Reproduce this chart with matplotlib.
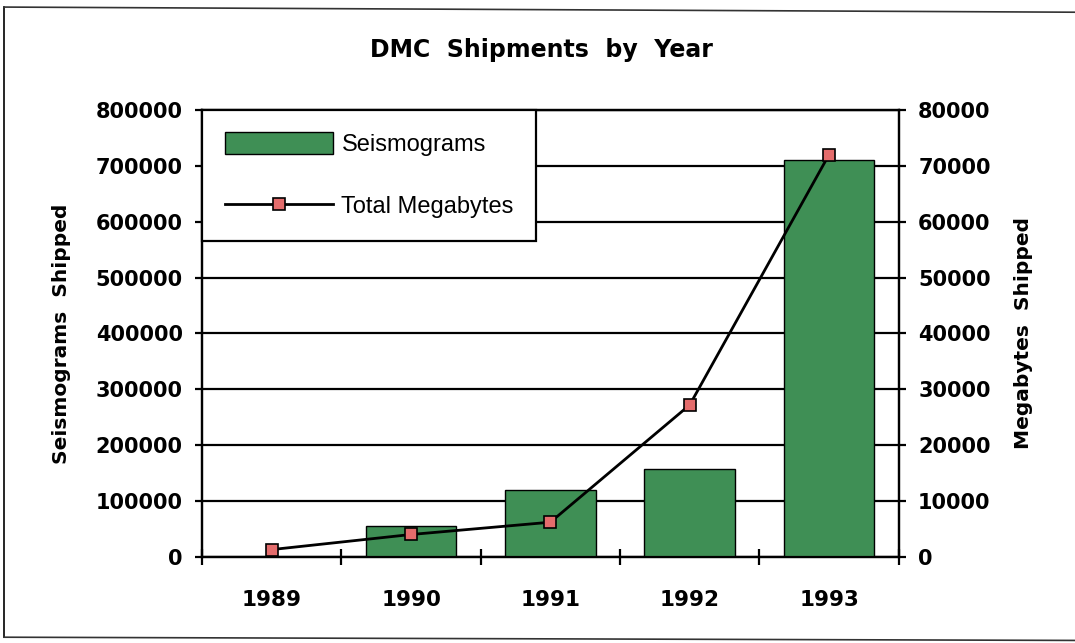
import numpy as np
import matplotlib.pyplot as plt
from matplotlib.lines import Line2D

years = ['1989', '1990', '1991', '1992', '1993']
seismograms = [0, 55000, 120000, 157000, 710000]
megabytes = [1300, 4000, 6200, 27200, 72000]

left_ticks = [0, 100000, 200000, 300000, 400000, 500000, 600000, 700000, 800000]
right_ticks = [0, 10000, 20000, 30000, 40000, 50000, 60000, 70000, 80000]

bar_green = '#3f8f55'
marker_red = '#e46c6c'

plt.rcParams['font.family'] = ['DejaVu Sans']

fig = plt.figure(figsize=(10.75, 6.43), dpi=100)
ax = fig.add_axes([0.188, 0.134, 0.648, 0.695])
ax2 = ax.twinx()

x = np.arange(len(years))

# seismograms as bars on the left axis
bars = ax.bar(x, seismograms, width=0.65, color=bar_green,
              edgecolor='black', linewidth=1, zorder=3)
ax.set_ylim(0, 800000)
ax.set_xlim(-0.5, len(years) - 0.5)
ax.set_yticks(left_ticks)
ax.set_yticklabels([str(v) for v in left_ticks])
ax.yaxis.grid(True, color='black', linewidth=1.6)
ax.set_axisbelow(True)

# megabytes as a line on the right axis
line, = ax2.plot(x, megabytes, color='black', linewidth=2,
                 marker='s', markersize=8.5, markerfacecolor=marker_red,
                 markeredgecolor='black', markeredgewidth=1.2, zorder=4)
ax2.set_ylim(0, 80000)
ax2.set_yticks(right_ticks)
ax2.set_yticklabels([str(v) for v in right_ticks])

# year labels at the centres, tick marks between the years
ax.set_xticks(x)
ax.set_xticklabels(years)
ax.set_xticks(np.arange(len(years) + 1) - 0.5, minor=True)
ax.tick_params(axis='x', which='major', length=0, pad=24,
               labelsize=15.5)
ax.tick_params(axis='x', which='minor', direction='inout', length=11.5,
               width=1.6)
for lab in ax.get_xticklabels():
    lab.set_fontweight('bold')

ax.tick_params(axis='y', direction='out', length=5, width=1.6, pad=9,
               labelsize=15)
ax2.tick_params(axis='y', direction='out', length=5, width=1.6, pad=9,
                labelsize=15)
for lab in ax.get_yticklabels() + ax2.get_yticklabels():
    lab.set_fontweight('bold')

for a in (ax, ax2):
    for s in a.spines.values():
        s.set_linewidth(1.6)

ax.set_ylabel('Seismograms  Shipped', fontsize=14.5, fontweight='bold',
              labelpad=18)
ax2.set_ylabel('Megabytes  Shipped', fontsize=14.5, fontweight='bold',
               labelpad=17)

fig.text(541 / 1075, 1 - 50 / 643, 'DMC  Shipments  by  Year',
         ha='center', va='center', fontsize=17, fontweight='bold')

leg = ax2.legend([bars, line], ['Seismograms', 'Total Megabytes'],
                 loc='upper left', bbox_to_anchor=(0, 1),
                 prop={'family': 'Liberation Sans', 'size': 17},
                 handlelength=4.6, handleheight=1.05, labelspacing=1.6,
                 borderpad=0.95, handletextpad=0.35, borderaxespad=0,
                 fancybox=False, framealpha=1, edgecolor='black')
leg.get_frame().set_linewidth(1.6)

# page border around the chart
fig.add_artist(Line2D([0.0037, 0.0037], [0.009, 0.989], color='black',
                      linewidth=1.2))
fig.add_artist(Line2D([0.0037, 1.0], [0.989, 0.981], color='#333333',
                      linewidth=1.2))
fig.add_artist(Line2D([0.0037, 1.0], [0.009, 0.004], color='#333333',
                      linewidth=1.2))

fig.savefig('out.png', dpi=100)
